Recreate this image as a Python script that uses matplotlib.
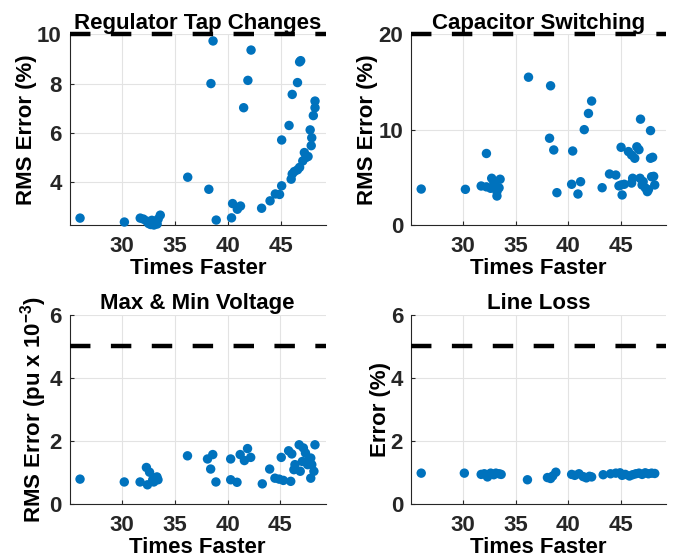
import matplotlib
matplotlib.use("Agg")
import matplotlib.pyplot as plt

plt.rcParams['font.family'] = ['Liberation Sans', 'DejaVu Sans']
plt.rcParams['font.weight'] = 'bold'
plt.rcParams['font.size'] = 16
plt.rcParams['mathtext.fontset'] = 'custom'
plt.rcParams['mathtext.bf'] = 'Liberation Sans:bold'
plt.rcParams['mathtext.rm'] = 'Liberation Sans:bold'
plt.rcParams['mathtext.default'] = 'bf'

blue = '#0072BD'

# Regulator tap changes
tap_x = [26.0, 30.2, 31.7, 32.0, 32.3, 32.5, 32.7, 32.8, 33.0, 33.1, 33.3, 33.4, 33.6,
         36.2, 38.2, 38.4, 38.6, 38.9, 40.35, 40.45, 40.9, 41.2, 41.5, 41.9, 42.2,
         43.2, 44.0, 44.5, 44.9, 45.1, 45.1, 45.8, 46.0, 46.1, 46.1, 46.3, 46.6, 46.6,
         46.8, 46.9, 46.8, 47.1, 47.25, 47.4, 47.6, 47.9, 47.95, 47.8, 48.1, 48.26, 48.26]
tap_y = [2.54, 2.38, 2.54, 2.50, 2.42, 2.32, 2.28, 2.45, 2.26, 2.38, 2.30, 2.50, 2.66,
         4.20, 3.71, 8.00, 9.73, 2.46, 2.55, 3.13, 2.90, 3.03, 7.02, 8.13, 9.36,
         2.94, 3.24, 3.52, 3.50, 5.71, 3.85, 6.30, 4.12, 4.33, 7.56, 4.43, 8.04, 4.50,
         8.88, 8.93, 4.60, 4.86, 5.20, 5.00, 5.04, 5.48, 5.80, 6.12, 6.70, 7.02, 7.29]

# Capacitor switching
cap_x = [26.0, 30.2, 31.7, 32.2, 32.2, 32.6, 32.7, 32.9, 33.0, 33.2, 33.2, 33.4, 33.5,
         36.2, 38.2, 38.3, 38.6, 38.9, 40.3, 40.4, 40.9, 41.15, 41.5, 41.9, 42.2,
         43.2, 43.9, 44.5, 44.8, 45.0, 45.0, 45.1, 45.3, 45.7, 46.0, 46.0, 46.1, 46.3,
         46.5, 46.7, 46.8, 46.85, 47.0, 47.1, 47.3, 47.5, 47.6, 47.8, 47.8, 47.9, 48.0,
         48.1, 48.2]
cap_y = [3.77, 3.74, 4.09, 7.50, 4.00, 3.85, 4.90, 4.50, 4.20, 3.50, 3.04, 3.90, 4.80,
         15.5, 9.10, 14.6, 7.87, 3.39, 4.27, 7.76, 3.25, 4.54, 10.0, 11.7, 13.0,
         3.91, 5.35, 5.24, 4.10, 8.15, 4.20, 3.15, 4.27, 7.70, 7.34, 4.40, 4.90, 7.00,
         8.20, 7.90, 4.90, 11.1, 4.20, 4.55, 3.90, 3.50, 3.70, 9.90, 7.00, 5.06, 7.10,
         5.10, 4.20]

# Max & min voltage
volt_x = [26.0, 30.2, 31.7, 32.3, 32.4, 32.6, 32.9, 33.1, 33.3, 33.4, 33.0,
          36.2, 38.1, 38.4, 38.6, 38.9, 40.3, 40.3, 40.9, 41.2, 41.6, 41.9, 42.2,
          43.3, 44.0, 44.5, 44.9, 45.1, 45.3, 45.8, 46.0, 46.1, 46.3, 46.4, 46.8,
          46.9, 47.1, 47.2, 47.4, 47.6, 47.7, 47.9, 47.9, 48.0, 48.2, 48.3]
volt_y = [0.78, 0.69, 0.69, 1.15, 0.60, 1.00, 0.76, 0.81, 0.85, 0.76, 0.69,
          1.52, 1.42, 1.10, 1.56, 0.69, 1.42, 0.76, 0.68, 1.56, 1.37, 1.75, 1.47,
          0.63, 1.10, 0.81, 0.78, 1.47, 0.74, 1.68, 0.71, 1.58, 1.08, 1.24, 1.87,
          1.03, 1.34, 1.77, 1.61, 1.24, 1.40, 0.81, 1.45, 1.24, 1.03, 1.87]

# Line loss
loss_x = [26.0, 30.1, 31.7, 32.0, 32.3, 32.6, 32.9, 33.1, 33.4, 33.6,
          36.1, 38.0, 38.3, 38.5, 38.8, 40.3, 40.6, 41.0, 41.4, 41.7, 42.0, 42.2,
          43.3, 44.0, 44.5, 44.9, 45.1, 45.4, 45.8, 46.1, 46.4, 46.7, 47.0, 47.3,
          47.6, 47.9, 48.2]
loss_y = [0.97, 0.97, 0.93, 0.95, 0.85, 0.97, 0.92, 0.97, 0.95, 0.93,
          0.76, 0.83, 0.80, 0.88, 1.00, 0.93, 0.90, 0.95, 0.86, 0.82, 0.87, 0.85,
          0.92, 0.95, 0.97, 0.98, 0.90, 0.93, 0.88, 0.92, 0.95, 0.97, 0.93, 0.98,
          0.95, 0.97, 0.96]

panels = [
    (tap_x, tap_y, 'Regulator Tap Changes', 'RMS Error (%)', (2.26, 10), [4, 6, 8, 10], 10),
    (cap_x, cap_y, 'Capacitor Switching', 'RMS Error (%)', (0, 20), [0, 10, 20], 20),
    (volt_x, volt_y, 'Max & Min Voltage', 'RMS Error (pu x 10$^{-3}$)', (0, 6), [0, 2, 4, 6], 5),
    (loss_x, loss_y, 'Line Loss', 'Error (%)', (0, 6), [0, 2, 4, 6], 5),
]

W, H = 676, 558
boxes = [(69.5, 34.3, 326, 225), (410.7, 34.3, 666.3, 225),
         (69.5, 314.7, 325.5, 503.7), (410.7, 314.7, 666.3, 503.7)]

fig = plt.figure(figsize=(6.76, 5.58), dpi=100)
for (x, y, title, ylab, ylim, yt, thr), (l, t, r, b) in zip(panels, boxes):
    ax = fig.add_axes([l / W, 1 - b / H, (r - l) / W, (b - t) / H])
    ax.scatter(x, y, s=46, color=blue, edgecolors='none', zorder=3, clip_on=False)
    ax.axhline(thr, color='black', lw=3.2, dashes=(4.6, 4.6), zorder=4, clip_on=False)
    ax.set_xlim(25, 49.3)
    ax.set_ylim(*ylim)
    ax.set_xticks([30, 35, 40, 45])
    ax.set_yticks(yt)
    ax.grid(True, color='#e3e3e3', lw=0.8)
    ax.set_axisbelow(True)
    for s in ['top', 'right']:
        ax.spines[s].set_visible(False)
    for s in ['left', 'bottom']:
        ax.spines[s].set_color('#262626')
        ax.spines[s].set_linewidth(0.8)
    ax.tick_params(direction='in', length=3, width=0.8, colors='#262626', labelsize=16)
    ax.tick_params(axis='x', pad=8)
    ax.tick_params(axis='y', pad=5.5)
    ax.set_title(title, fontsize=16, fontweight='bold', pad=4)
    ax.set_xlabel('Times Faster', fontsize=16, fontweight='bold', labelpad=1)
    ax.set_ylabel(ylab, fontsize=16, fontweight='bold', labelpad=0)

fig.savefig('out.png', dpi=100)
